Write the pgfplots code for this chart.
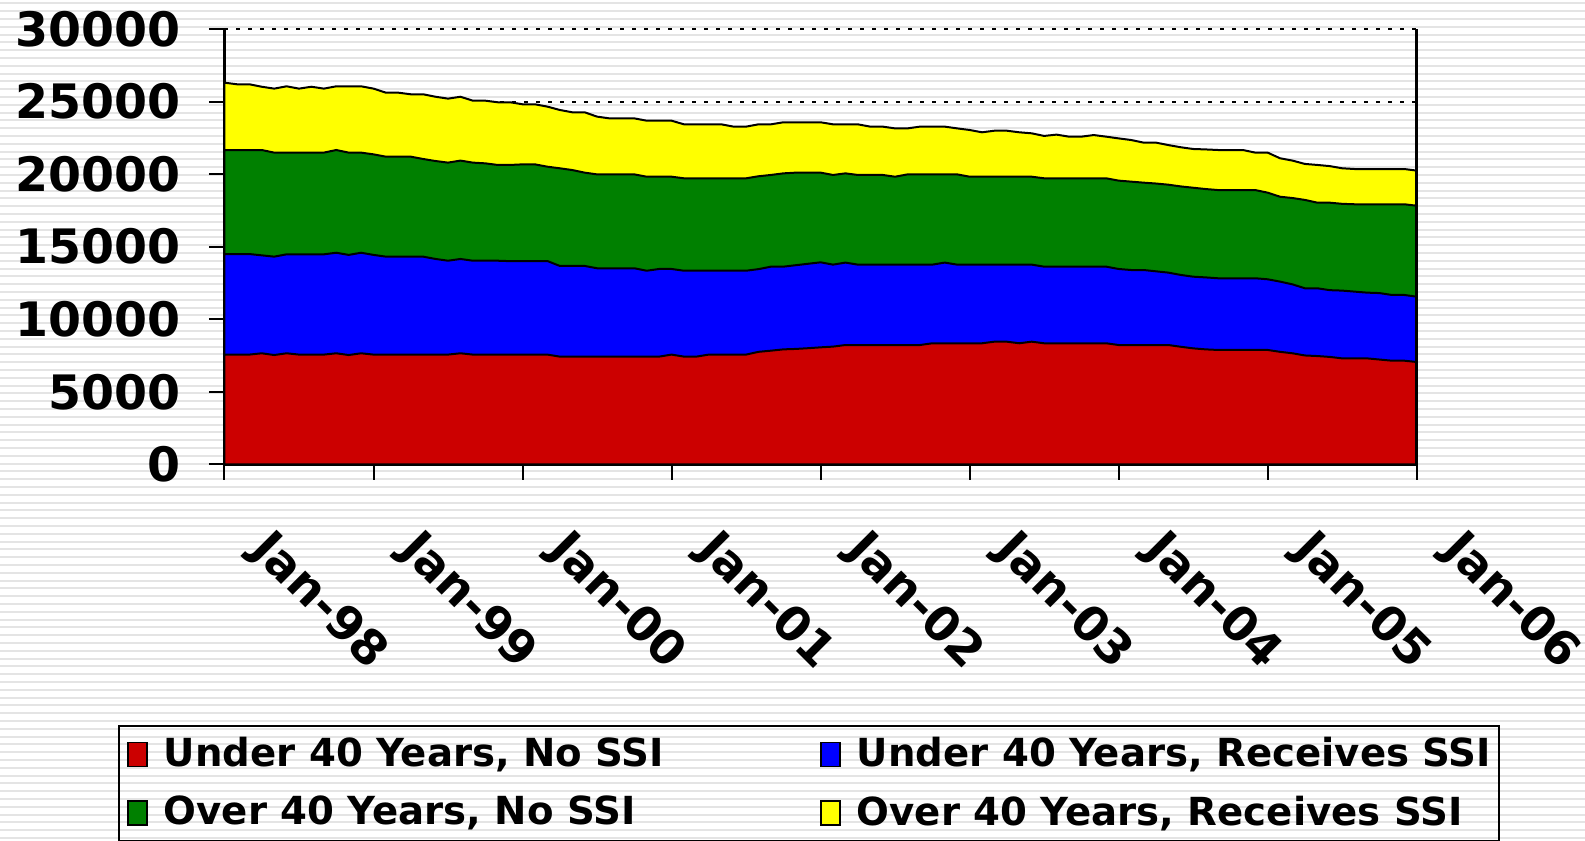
\documentclass[border=0pt]{standalone}
\usepackage{pgfplots}
\pgfplotsset{compat=1.18}
\usepackage{pgfplotstable}
\usepackage{fontspec}
\setmainfont{DejaVu Sans}
\definecolor{cRed}{HTML}{CC0000}
\definecolor{cBlue}{HTML}{0000FF}
\definecolor{cGreen}{HTML}{008000}
\definecolor{cYellow}{HTML}{FFFF00}
\definecolor{stripe}{HTML}{E4E4E4}

% cumulative tops of the stacked areas (months since Jan-98)
\pgfplotstableread{
m red blue green total
0 7560 14490 21660 26300
1 7560 14490 21660 26190
2 7560 14490 21660 26190
3 7650 14400 21660 26020
4 7530 14310 21480 25890
5 7650 14470 21480 26050
6 7560 14470 21480 25890
7 7560 14470 21480 26020
8 7560 14470 21480 25890
9 7650 14580 21660 26050
10 7530 14430 21480 26050
11 7650 14580 21480 26050
12 7560 14430 21360 25890
13 7560 14310 21200 25610
14 7560 14310 21200 25610
15 7560 14310 21200 25500
16 7560 14310 21040 25500
17 7560 14150 20900 25330
18 7560 14030 20790 25200
19 7650 14150 20930 25330
20 7560 14030 20790 25060
21 7560 14030 20740 25060
22 7560 14030 20630 24950
23 7560 14000 20630 24950
24 7560 14010 20670 24810
25 7560 14010 20670 24810
26 7560 14010 20510 24650
27 7420 13670 20400 24420
28 7420 13670 20280 24260
29 7420 13670 20100 24260
30 7420 13510 19980 23960
31 7420 13510 19980 23840
32 7420 13510 19980 23840
33 7420 13510 19980 23840
34 7420 13340 19820 23680
35 7420 13460 19820 23680
36 7560 13460 19820 23680
37 7420 13340 19710 23430
38 7420 13340 19710 23430
39 7560 13340 19710 23430
40 7560 13340 19710 23430
41 7560 13340 19710 23270
42 7560 13340 19710 23270
43 7750 13450 19850 23430
44 7830 13620 19940 23430
45 7920 13620 20050 23570
46 7950 13720 20100 23570
47 8000 13820 20100 23570
48 8060 13920 20100 23570
49 8110 13760 19940 23430
50 8220 13900 20050 23430
51 8220 13760 19940 23430
52 8220 13760 19940 23270
53 8220 13760 19940 23270
54 8220 13760 19820 23150
55 8220 13760 19980 23150
56 8220 13760 19980 23270
57 8340 13760 19980 23270
58 8340 13900 19980 23270
59 8340 13760 19980 23150
60 8340 13760 19820 23040
61 8340 13760 19820 22880
62 8450 13760 19820 22990
63 8450 13760 19820 22990
64 8340 13760 19820 22880
65 8450 13760 19820 22810
66 8340 13620 19710 22630
67 8340 13620 19710 22720
68 8340 13620 19710 22580
69 8340 13620 19710 22580
70 8340 13620 19710 22690
71 8340 13620 19710 22580
72 8220 13460 19550 22460
73 8220 13390 19480 22350
74 8220 13390 19410 22170
75 8220 13300 19350 22170
76 8220 13210 19270 22000
77 8100 13050 19150 21850
78 7990 12930 19060 21730
79 7920 12880 18970 21700
80 7880 12820 18900 21660
81 7880 12820 18900 21660
82 7880 12820 18900 21660
83 7880 12820 18900 21480
84 7880 12750 18720 21480
85 7750 12590 18440 21090
86 7650 12400 18350 20930
87 7500 12130 18220 20700
88 7460 12130 18030 20630
89 7400 12000 18030 20550
90 7300 11970 17950 20400
91 7300 11900 17920 20350
92 7300 11830 17920 20350
93 7220 11800 17920 20350
94 7140 11670 17920 20350
95 7140 11670 17920 20350
96 7050 11550 17820 20240
}\datatable

\begin{document}
\begin{tikzpicture}
\path[use as bounding box] (0,0) rectangle (15.85,8.41);
\fill[white] (0,0) rectangle (15.85,8.41);
\foreach \i in {0,...,107} {\draw[stripe, line width=0.02cm] (0,{0.03+\i*0.078}) -- (15.85,{0.03+\i*0.078});}
\begin{axis}[
  at={(2.245cm,3.767cm)}, anchor=south west,
  scale only axis, width=11.922cm, height=4.353cm,
  xmin=0, xmax=96, ymin=0, ymax=30000,
  axis lines*=left,
  axis line style={line width=0.03cm, black},
  clip=false,
  xtick={0,12,...,96},
  xticklabels={Jan-98,Jan-99,Jan-00,Jan-01,Jan-02,Jan-03,Jan-04,Jan-05,Jan-06},
  ytick={0,5000,...,30000},
  scaled y ticks=false,
  /pgf/number format/1000 sep={},
  /pgf/number format/assume math mode=true,
  tick align=outside,
  major tick length=0.155cm,
  tick style={line width=0.02cm, black},
  ymajorgrids,
  major grid style={black, line width=0.02cm, dash pattern=on 0.04cm off 0.08cm},
  tick label style={font=\fontsize{13.5}{16}\selectfont\bfseries},
  yticklabel style={anchor=east, inner sep=0pt, xshift=-0.275cm},
  xticklabel style={inner sep=0pt, xshift=0.935cm, yshift=-1.225cm, rotate=-45, anchor=center},
  legend columns=2,
  legend cell align=left,
  legend image code/.code={\draw[#1, line width=0.5pt] (0cm,-0.12cm) rectangle (0.19cm,0.12cm);},
  legend style={at={(-0.0893,-0.599)}, anchor=north west, draw=black, line width=0.6pt, fill=none,
    font=\fontsize{11.0}{13}\selectfont\bfseries, inner xsep=0.08cm, inner ysep=0.11cm, row sep=0.24cm,
    nodes={inner sep=0pt},
    /tikz/every odd column/.append style={column sep=0.16cm},
    /tikz/every even column/.append style={column sep=1.56cm}},
]
\addplot[fill=cYellow, draw=black, line width=0.02cm, forget plot] table[x=m, y=total] {\datatable} \closedcycle;
\addplot[fill=cGreen, draw=black, line width=0.02cm, forget plot] table[x=m, y=green] {\datatable} \closedcycle;
\addplot[fill=cBlue, draw=black, line width=0.02cm, forget plot] table[x=m, y=blue] {\datatable} \closedcycle;
\addplot[fill=cRed, draw=black, line width=0.02cm, forget plot] table[x=m, y=red] {\datatable} \closedcycle;
\draw[line width=0.03cm, black] (rel axis cs:1,0) -- (rel axis cs:1,1);
\addlegendimage{fill=cRed, draw=black}
\addlegendentry{Under 40 Years, No SSI}
\addlegendimage{fill=cBlue, draw=black}
\addlegendentry{Under 40 Years, Receives SSI}
\addlegendimage{fill=cGreen, draw=black}
\addlegendentry{Over 40 Years, No SSI}
\addlegendimage{fill=cYellow, draw=black}
\addlegendentry{Over 40 Years, Receives SSI}
\end{axis}
\end{tikzpicture}
\end{document}
